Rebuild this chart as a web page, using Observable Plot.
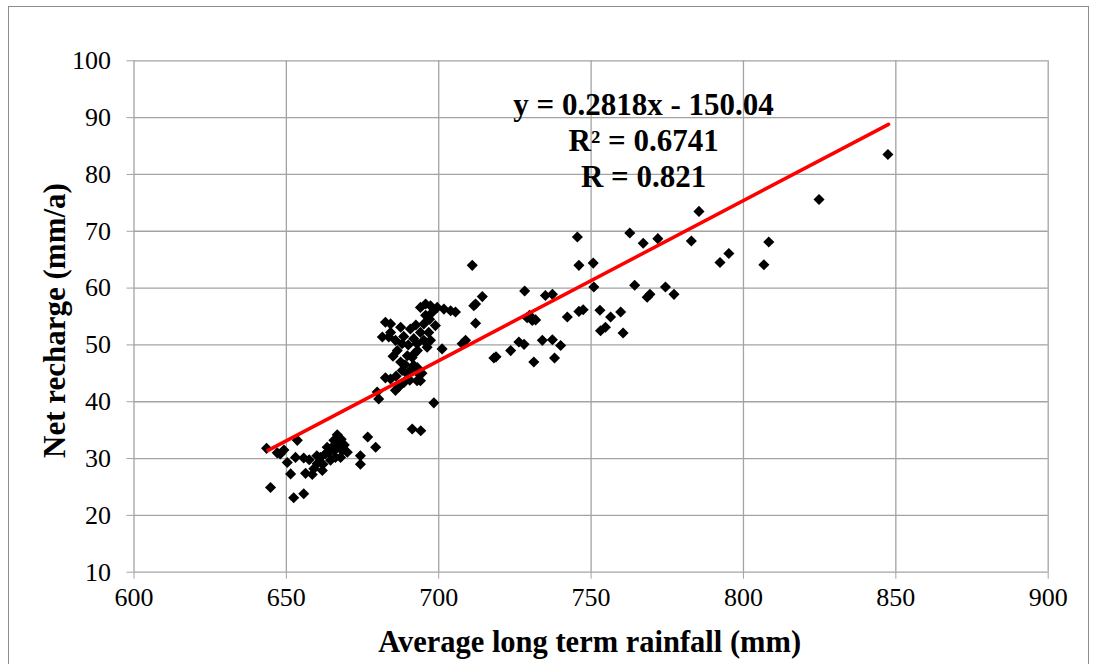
<!DOCTYPE html>
<html>
<head>
<meta charset="utf-8">
<script src="https://cdn.jsdelivr.net/npm/d3@7"></script>
<script src="https://cdn.jsdelivr.net/npm/@observablehq/plot@0.6"></script>
<style>
  html, body { margin: 0; padding: 0; background: #fff; }
  #wrap { position: relative; width: 1095px; height: 664px; overflow: hidden; }
  #frame { position: absolute; left: 8px; top: 6px; width: 1081px; height: 700px; border: 1.5px solid #8c8c8c; box-sizing: border-box; pointer-events: none; }
  #chart { position: absolute; left: 0; top: 0; }
  #chart svg text { font-family: "Liberation Serif", "Times New Roman", serif; }
</style>
</head>
<body>
<div id="wrap"><div id="chart"></div><div id="frame"></div></div>
<script>
// ---- data ----
const rainfall = [
  643.5, 644.8, 647, 649.2, 648, 650.3, 651.4, 653.6, 653, 655.7,
  652.4, 655.7, 656.3, 658.5, 659, 660.1, 661.8, 661.2, 662.8, 663.4,
  663.4, 664.5, 665, 665.6, 666.1, 666.7, 667.2, 667.8, 668.3, 670,
  669, 668, 664, 666, 662, 660, 657.5, 674.3, 674.3, 676.7, 679.3,
  679.8, 680.3, 682.5, 684.2, 685.8, 686.9, 688.6, 689.7, 690.7, 691.8,
  692.9, 694, 693.5, 691.3, 689.7, 687.5, 686.4, 688, 685.8, 683.6,
  681.5, 684.2, 682.5, 684.2, 687.5, 690.7, 691.8, 692.9, 694, 695.1,
  696.2, 697.3, 698.9, 695.7, 694, 697.3, 699.5, 701.7, 703.9, 705.5,
  695.7, 695.1, 696.7, 701.1, 698.4, 691.3, 694.1,
  689, 692, 690, 693, 688, 694.5, 686, 690.5, 693, 697, 698, 692.5, 685, 688.5,
  711, 711.5, 712.1, 714.3, 712.1, 708.8, 707.7, 718.1, 718.8, 723.6,
  726.3, 728, 728.2, 729, 730.7, 731.8, 729.8, 731.2, 734, 735,
  737.3, 737.3, 738, 740, 742.2, 745.5, 746, 746, 747.4, 750.7,
  750.9, 752.9, 753.1, 754.7, 756.4, 759.7, 760.5, 762.7, 764.3, 767.1,
  768.4, 769.3, 771.9, 774.4, 777.2, 782.9, 785.4, 792.3, 795.2, 806.7,
  808.3, 824.8, 847.4
];
const recharge = [
  31.8, 24.9, 31.0, 31.5, 30.8, 29.3, 27.3, 33.2, 30.2, 30.1,
  23.1, 23.8, 27.4, 27.2, 28.2, 29.1, 27.9, 30.2, 30.8, 31.1,
  32.0, 29.7, 32.0, 33.2, 30.2, 34.2, 32.6, 30.2, 31.4, 31.1,
  32.4, 33.4, 31.0, 31.5, 29.0, 30.5, 29.8, 30.5, 29.0, 33.8, 32.0,
  41.7, 40.5, 44.2, 44.0, 42.0, 42.6, 43.4, 44.9, 45.5, 46.4,
  43.7, 43.7, 44.9, 47.8, 48.1, 47.0, 49.0, 50.2, 50.8, 51.4,
  51.4, 52.2, 54.0, 53.7, 53.1, 52.8, 51.1, 50.2, 52.2, 50.8,
  49.6, 50.8, 53.4, 57.2, 56.6, 56.9, 56.6, 56.3, 56.0, 55.8,
  55.2, 53.7, 52.2, 49.3, 39.8, 35.2, 34.9,
  46.5, 48.5, 50.0, 46.0, 45.5, 45.0, 44.5, 43.8, 49.0, 54.5, 55.8, 53.5, 48.0, 51.5,
  64.0, 56.9, 57.2, 58.5, 53.8, 50.8, 50.2, 47.7, 47.9, 49.0,
  50.5, 50.1, 59.5, 54.8, 54.3, 54.4, 55.2, 47.0, 50.8, 58.7,
  58.9, 50.9, 47.7, 49.9, 54.9, 69.0, 64.0, 55.9, 56.2, 64.4,
  60.2, 56.1, 52.5, 53.1, 54.9, 55.8, 52.1, 69.7, 60.5, 67.9,
  58.4, 58.9, 68.7, 60.2, 58.9, 68.3, 73.5, 64.5, 66.1, 64.1,
  68.1, 75.6, 83.5
];
const xTicks = [600, 650, 700, 750, 800, 850, 900];
const yTicks = [10, 20, 30, 40, 50, 60, 70, 80, 90, 100];
const slope = 0.2818, intercept = -150.04;
const fitRange = [644, 847.6];
const eqLines = ["y = 0.2818x - 150.04", "R² = 0.6741", "R = 0.821"];
const xTitle = "Average long term rainfall (mm)";
const yTitle = "Net recharge (mm/a)";

const points = rainfall.map((x, i) => ({x, y: recharge[i]}));
const fit = fitRange.map(x => ({x, y: slope * x + intercept}));
const grid = "#a3a3a3";
const serif = "Liberation Serif";

const chart = Plot.plot({
  width: 1095,
  height: 664,
  marginLeft: 133.5,
  marginRight: 47.3,
  marginTop: 60.3,
  marginBottom: 92.3,
  style: {fontFamily: serif, background: "transparent", color: "#000", overflow: "visible"},
  x: {domain: [600, 900], ticks: xTicks},
  y: {domain: [10, 100], ticks: yTicks},
  marks: [
    Plot.ruleY(yTicks, {x1: 600, x2: 900, stroke: grid, strokeWidth: 1.3}),
    Plot.ruleX(xTicks, {y1: 10, y2: 100, stroke: grid, strokeWidth: 1.3}),
    Plot.axisY({ticks: yTicks, tickSize: 7, tickPadding: 16, stroke: grid, fill: "#000", fontSize: 26, fontFamily: serif, label: null, tickFormat: d => String(d)}),
    Plot.axisX({ticks: xTicks, tickSize: 7, tickPadding: 8, stroke: grid, fill: "#000", fontSize: 26, fontFamily: serif, label: null, tickFormat: d => String(d)}),
    Plot.dot(points, {x: "x", y: "y", symbol: "diamond2", r: 5, fill: "#000", stroke: "none"}),
    Plot.line(fit, {x: "x", y: "y", stroke: "#ff0000", strokeWidth: 3.5}),
    Plot.text([eqLines.join("\n")], {frameAnchor: "top", dx: 52.5, dy: 79, lineAnchor: "middle", textAnchor: "middle", lineHeight: 1.16, fontSize: 31, fontWeight: "bold", fontFamily: serif, fill: "#000"}),
    Plot.text([xTitle], {frameAnchor: "bottom", dx: -1.5, dy: 70, lineAnchor: "middle", textAnchor: "middle", fontSize: 30.5, fontWeight: "bold", fontFamily: serif, fill: "#000"}),
    Plot.text([yTitle], {frameAnchor: "left", dx: -79, dy: 4, rotate: -90, lineAnchor: "middle", textAnchor: "middle", fontSize: 31, fontWeight: "bold", fontFamily: serif, fill: "#000"})
  ]
});
document.getElementById("chart").appendChild(chart);
</script>
</body>
</html>
